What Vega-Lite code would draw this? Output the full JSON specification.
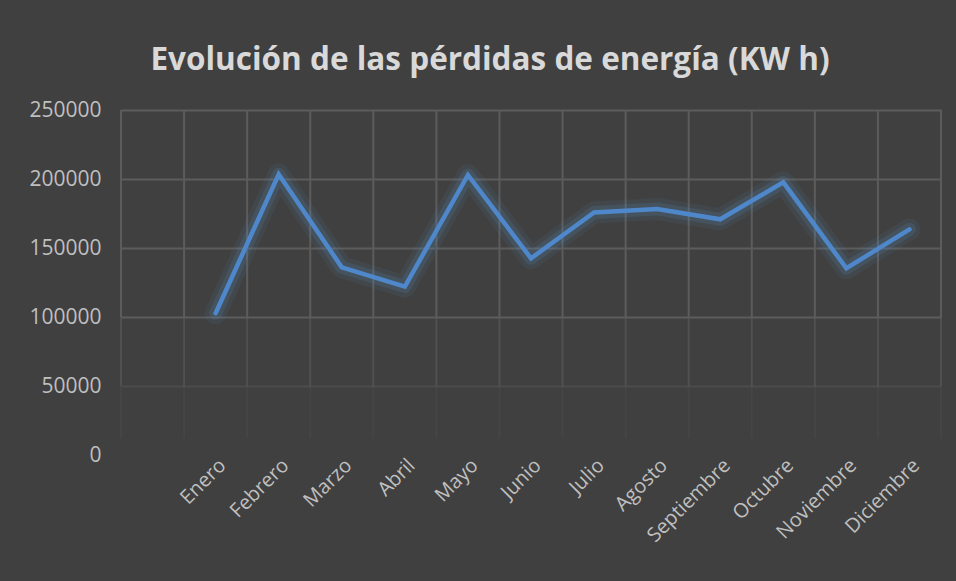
{
  "$schema": "https://vega.github.io/schema/vega-lite/v6.json",
  "autosize": "none",
  "width": 820,
  "height": 345,
  "padding": {"left": 121, "top": 110, "right": 15, "bottom": 126},
  "background": "#404040",
  "title": {
    "text": "Evolución de las pérdidas de energía (KW h)",
    "font": "Open Sans",
    "fontSize": 31.5,
    "fontWeight": "bold",
    "color": "#d9d9d9",
    "anchor": "middle",
    "frame": "group",
    "dx": -41,
    "offset": 23
  },
  "config": {
    "view": {"stroke": null},
    "font": "Open Sans"
  },
  "data": {
    "values": [
      {"mes": " ", "perdidas": null},
      {"mes": "Enero", "perdidas": 102700},
      {"mes": "Febrero", "perdidas": 203400},
      {"mes": "Marzo", "perdidas": 136000},
      {"mes": "Abril", "perdidas": 122000},
      {"mes": "Mayo", "perdidas": 202900},
      {"mes": "Junio", "perdidas": 142500},
      {"mes": "Julio", "perdidas": 175800},
      {"mes": "Agosto", "perdidas": 178300},
      {"mes": "Septiembre", "perdidas": 170800},
      {"mes": "Octubre", "perdidas": 197600},
      {"mes": "Noviembre", "perdidas": 135300},
      {"mes": "Diciembre", "perdidas": 163500}
    ]
  },
  "encoding": {
    "x": {
      "field": "mes",
      "type": "nominal",
      "sort": null,
      "title": null,
      "scale": {"type": "band", "paddingInner": 0, "paddingOuter": 0, "domain": [" ", "Enero", "Febrero", "Marzo", "Abril", "Mayo", "Junio", "Julio", "Agosto", "Septiembre", "Octubre", "Noviembre", "Diciembre"]},
      "axis": {"grid": false, "ticks": false, "domain": false, "labelAngle": -45, "labelFontSize": 20, "labelColor": "#bfbfbf", "labelFont": "Open Sans", "labelPadding": 0}
    }
  },
  "layer": [
    {
      "mark": {"type": "rule", "color": "#5c5c5c", "strokeWidth": 2},
      "encoding": {
        "x": {"field": "mes", "type": "nominal", "bandPosition": 0},
        "y": {"datum": 250000, "type": "quantitative", "title": null, "scale": {"domain": [0, 250000], "nice": false},
          "axis": {"title": null, "grid": true, "values": [0, 50000, 100000, 150000, 200000, 250000], "format": "d", "domain": false, "ticks": false, "labelFontSize": 21, "labelColor": "#bfbfbf", "labelFont": "Open Sans", "labelPadding": 20, "gridColor": "#5c5c5c", "gridWidth": 2,
            "gridOpacity": {"condition": [{"test": "datum.value == 0", "value": 0}, {"test": "datum.value == 50000", "value": 0.45}], "value": 1}}},
        "y2": {"datum": 100000}
      }
    },
    {
      "mark": {"type": "rule", "color": "#5c5c5c", "strokeWidth": 2, "opacity": 0.55},
      "encoding": {
        "x": {"field": "mes", "type": "nominal", "bandPosition": 0},
        "y": {"datum": 100000, "type": "quantitative", "title": null},
        "y2": {"datum": 50000}
      }
    },
    {
      "mark": {"type": "rule", "color": "#5c5c5c", "strokeWidth": 2, "opacity": 0.2},
      "encoding": {
        "x": {"field": "mes", "type": "nominal", "bandPosition": 0},
        "y": {"datum": 50000, "type": "quantitative", "title": null},
        "y2": {"datum": 12000}
      }
    },
    {
      "transform": [{"filter": "datum.mes == 'Diciembre'"}],
      "mark": {"type": "rule", "color": "#5c5c5c", "strokeWidth": 2},
      "encoding": {
        "x": {"field": "mes", "type": "nominal", "bandPosition": 1},
        "y": {"datum": 250000, "type": "quantitative", "title": null},
        "y2": {"datum": 100000}
      }
    },
    {
      "transform": [{"filter": "datum.mes == 'Diciembre'"}],
      "mark": {"type": "rule", "color": "#5c5c5c", "strokeWidth": 2, "opacity": 0.55},
      "encoding": {
        "x": {"field": "mes", "type": "nominal", "bandPosition": 1},
        "y": {"datum": 100000, "type": "quantitative", "title": null},
        "y2": {"datum": 50000}
      }
    },
    {
      "transform": [{"filter": "datum.mes == 'Diciembre'"}],
      "mark": {"type": "rule", "color": "#5c5c5c", "strokeWidth": 2, "opacity": 0.2},
      "encoding": {
        "x": {"field": "mes", "type": "nominal", "bandPosition": 1},
        "y": {"datum": 50000, "type": "quantitative", "title": null},
        "y2": {"datum": 12000}
      }
    },
    {
      "transform": [{"filter": "isValid(datum.perdidas)"}],
      "mark": {"type": "line", "color": "#5b9bd5", "strokeWidth": 22, "opacity": 0.08, "strokeJoin": "round", "strokeCap": "round"},
      "encoding": {
        "x": {"field": "mes", "type": "nominal", "bandPosition": 0.5},
        "y": {"field": "perdidas", "type": "quantitative", "title": null}
      }
    },
    {
      "transform": [{"filter": "isValid(datum.perdidas)"}],
      "mark": {"type": "line", "color": "#5b9bd5", "strokeWidth": 13, "opacity": 0.14, "strokeJoin": "round", "strokeCap": "round"},
      "encoding": {
        "x": {"field": "mes", "type": "nominal", "bandPosition": 0.5},
        "y": {"field": "perdidas", "type": "quantitative", "title": null}
      }
    },
    {
      "transform": [{"filter": "isValid(datum.perdidas)"}],
      "mark": {"type": "line", "color": "#4f87cb", "strokeWidth": 4.5, "strokeJoin": "miter", "strokeCap": "round"},
      "encoding": {
        "x": {"field": "mes", "type": "nominal", "bandPosition": 0.5},
        "y": {"field": "perdidas", "type": "quantitative", "title": null}
      }
    }
  ]
}
